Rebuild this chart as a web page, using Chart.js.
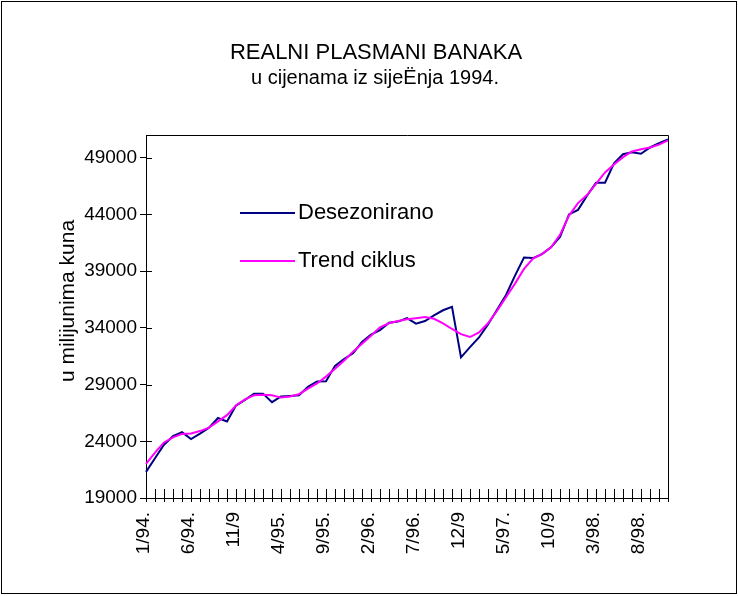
<!DOCTYPE html>
<html>
<head>
<meta charset="utf-8">
<script src="https://cdn.jsdelivr.net/npm/chart.js@4"></script>
<style>
  html, body { margin: 0; padding: 0; background: #fff; }
  #wrap { position: relative; width: 738px; height: 596px; }
</style>
</head>
<body>
<div id="wrap"><canvas id="c" width="738" height="596"></canvas></div>
<script>
// Realni plasmani banaka, monthly 1/94 .. 11/98.

const months = [
  '1/94', '2/94', '3/94', '4/94', '5/94', '6/94', '7/94', '8/94', '9/94', '10/94', '11/94', '12/94',
  '1/95', '2/95', '3/95', '4/95', '5/95', '6/95', '7/95', '8/95', '9/95', '10/95', '11/95', '12/95',
  '1/96', '2/96', '3/96', '4/96', '5/96', '6/96', '7/96', '8/96', '9/96', '10/96', '11/96', '12/96',
  '1/97', '2/97', '3/97', '4/97', '5/97', '6/97', '7/97', '8/97', '9/97', '10/97', '11/97', '12/97',
  '1/98', '2/98', '3/98', '4/98', '5/98', '6/98', '7/98', '8/98', '9/98', '10/98', '11/98',
];

// every 5th month gets a label, as printed (some are cut short)
const xTickLabels = ['1/94.', '6/94.', '11/9', '4/95.', '9/95.', '2/96.', '7/96.', '12/9', '5/97.', '10/9', '3/98.', '8/98.'];

const yTicks = [19000, 24000, 29000, 34000, 39000, 44000, 49000];

const desezonirano = [
  21300, 22500, 23700, 24450, 24800, 24200, 24680, 25200, 26050, 25750, 27150, 27650,
  28200, 28200, 27450, 27950, 28000, 28050, 28800, 29280, 29300, 30650, 31250, 31750,
  32750, 33400, 33800, 34450, 34550, 34850, 34370, 34600, 35100, 35550, 35850, 31400,
  32300, 33150, 34300, 35600, 36900, 38600, 40200, 40150, 40500, 41100, 42000, 44000,
  44400, 45650, 46800, 46800, 48500, 49300, 49480, 49350, 49900, 50290, 50600,
];

const trendCiklus = [
  22000, 23000, 23900, 24350, 24650, 24680, 24900, 25200, 25750, 26300, 27150, 27700,
  28050, 28100, 28050, 27850, 27950, 28150, 28650, 29100, 29700, 30400, 31100, 31900,
  32600, 33300, 34050, 34400, 34600, 34750, 34850, 34950, 34800, 34400, 33900, 33450,
  33190, 33600, 34400, 35500, 36700, 37900, 39200, 40100, 40500, 41100, 42200, 43900,
  45000, 45700, 46700, 47700, 48400, 49050, 49550, 49750, 49900, 50150, 50520,
];

const TITLE = 'REALNI PLASMANI BANAKA';
const SUBTITLE = 'u cijenama iz sijeËnja 1994.';
const Y_TITLE = 'u milijunima kuna';

const FONT = "'Liberation Sans', Arial, sans-serif";

// white page, outer frame, titles
const frame = {
  id: 'frame',
  beforeDraw(chart) {
    const ctx = chart.ctx;
    ctx.save();
    ctx.fillStyle = '#fff';
    ctx.fillRect(0, 0, chart.width, chart.height);
    ctx.restore();
  },
  afterDraw(chart) {
    const ctx = chart.ctx;
    ctx.save();
    ctx.strokeStyle = '#000';
    ctx.lineWidth = 1;
    ctx.strokeRect(1.5, 1.5, 735, 592);

    ctx.fillStyle = '#000';
    ctx.textAlign = 'center';
    ctx.textBaseline = 'middle';
    ctx.font = '22px ' + FONT;
    ctx.fillText(TITLE, 376, 53);
    ctx.font = '20px ' + FONT;
    ctx.fillText(SUBTITLE, 375, 78);

    ctx.translate(68, 301);
    ctx.rotate(-Math.PI / 2);
    ctx.font = '21px ' + FONT;
    ctx.fillText(Y_TITLE, 0, 0);
    ctx.restore();
  },
};

// top/right edges of the plot box and the inner half of the cross ticks
const plotBox = {
  id: 'plotBox',
  afterDatasetsDraw(chart) {
    const { ctx, chartArea: a, scales } = chart;
    ctx.save();
    ctx.strokeStyle = '#000';
    ctx.lineWidth = 1;
    ctx.beginPath();
    ctx.moveTo(a.left, a.top + 0.5);
    ctx.lineTo(a.right + 0.5, a.top + 0.5);
    ctx.lineTo(a.right + 0.5, a.bottom);
    scales.x.ticks.forEach((t, i) => {
      const x = Math.round(scales.x.getPixelForTick(i)) + 0.5;
      ctx.moveTo(x, a.bottom);
      ctx.lineTo(x, a.bottom - 9);
    });
    scales.y.ticks.forEach((t, i) => {
      const y = Math.round(scales.y.getPixelForTick(i)) + 0.5;
      ctx.moveTo(a.left, y);
      ctx.lineTo(a.left + 6, y);
    });
    ctx.stroke();
    ctx.restore();
  },
};

// legend sits inside the plot
const insideLegend = {
  id: 'insideLegend',
  afterDraw(chart) {
    const ctx = chart.ctx;
    const items = [
      { ds: chart.data.datasets[1], y: 213 },
      { ds: chart.data.datasets[0], y: 261 },
    ];
    ctx.save();
    ctx.font = '22px ' + FONT;
    ctx.textBaseline = 'middle';
    ctx.textAlign = 'left';
    items.forEach(it => {
      ctx.strokeStyle = it.ds.borderColor;
      ctx.lineWidth = 2;
      ctx.beginPath();
      ctx.moveTo(240, it.y);
      ctx.lineTo(295, it.y);
      ctx.stroke();
      ctx.fillStyle = '#000';
      ctx.fillText(it.ds.label, 298, it.y);
    });
    ctx.restore();
  },
};

new Chart(document.getElementById('c'), {
  type: 'line',
  data: {
    labels: months,
    datasets: [
      {
        label: 'Trend ciklus',
        data: trendCiklus,
        borderColor: '#ff00ff',
        borderWidth: 2,
        pointRadius: 0,
        tension: 0,
        order: 0,
      },
      {
        label: 'Desezonirano',
        data: desezonirano,
        borderColor: '#000080',
        borderWidth: 2,
        pointRadius: 0,
        tension: 0,
        order: 1,
      },
    ],
  },
  options: {
    responsive: false,
    devicePixelRatio: 1,
    animation: false,
    layout: { padding: { left: 0, right: 70, top: 135, bottom: 0 } },
    plugins: {
      legend: { display: false },
      tooltip: { enabled: false },
    },
    scales: {
      x: {
        type: 'category',
        offset: false,
        afterFit(scale) { scale.height = 98; },
        grid: {
          offset: false,
          drawOnChartArea: false,
          drawTicks: true,
          tickLength: 4,
          color: '#000',
        },
        border: { display: true, color: '#000', width: 1 },
        ticks: {
          autoSkip: false,
          maxRotation: 90,
          minRotation: 90,
          padding: 10,
          labelOffset: -2,
          color: '#000',
          font: { family: FONT, size: 19 },
          callback(val, i) {
            return i % 5 === 0 ? xTickLabels[i / 5] : '';
          },
        },
      },
      y: {
        min: 19000,
        max: 51000,
        afterFit(scale) { scale.width = 146; },
        afterBuildTicks(scale) {
          scale.ticks = yTicks.map(v => ({ value: v }));
        },
        grid: {
          drawOnChartArea: false,
          drawTicks: true,
          tickLength: 6,
          color: '#000',
        },
        border: { display: true, color: '#000', width: 1 },
        ticks: {
          padding: 3,
          color: '#000',
          font: { family: FONT, size: 19 },
          callback: v => String(v),
        },
      },
    },
  },
  plugins: [frame, plotBox, insideLegend],
});
</script>
</body>
</html>
